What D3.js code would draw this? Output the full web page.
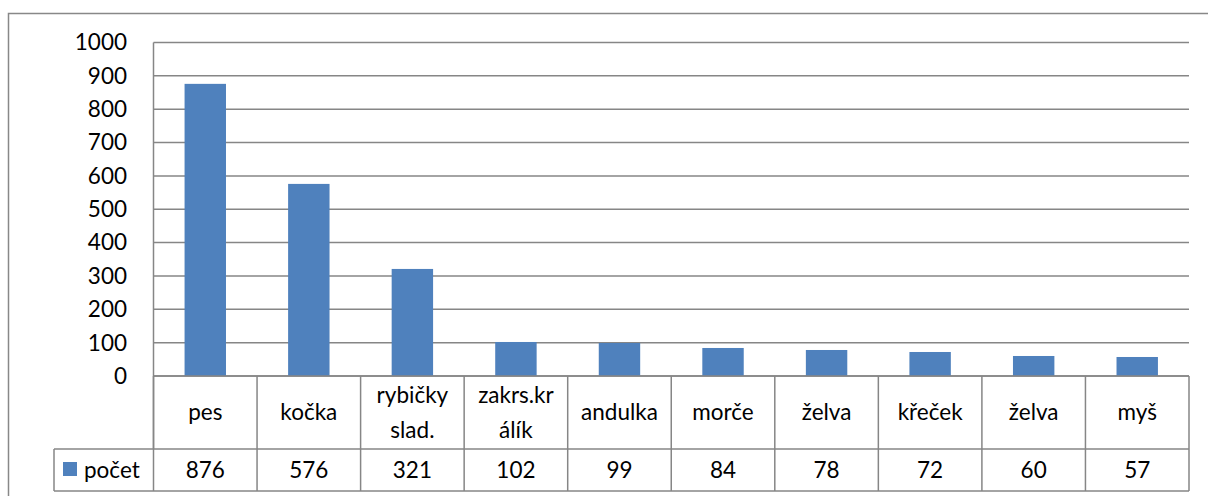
<!DOCTYPE html>
<html>
<head>
<meta charset="utf-8">
<script src="https://cdn.jsdelivr.net/npm/d3@7"></script>
<style>
  body { margin: 0; background: #fff; }
  text { font-family: Lato, "Open Sans", sans-serif; fill: #000; }
</style>
</head>
<body>
<svg id="chart" width="1208" height="496"></svg>
<script>
// data
const categories = [["pes"], ["kočka"], ["rybičky", "slad."], ["zakrs.kr", "álík"], ["andulka"], ["morče"], ["želva"], ["křeček"], ["želva"], ["myš"]];
const values = [876, 576, 321, 102, 99, 84, 78, 72, 60, 57];
const seriesName = "počet";
const yTicks = [0, 100, 200, 300, 400, 500, 600, 700, 800, 900, 1000];

const margin = {top: 42.5, left: 153.5, right: 1189, bottom: 376};
const rowBottom = 449, tableBottom = 491, legendLeft = 54;
const gridColor = "#868686", barColor = "#4f81bd";
const fontSize = "22.5px";

let svg = d3.select("#chart");

// outer frame
svg.append("rect")
    .attr("x", 8.5).attr("y", 13.5)
    .attr("width", 1210).attr("height", 500)
    .attr("fill", "none").attr("stroke", "#888").attr("stroke-width", 1.5);

let xScale = d3.scaleBand()
    .domain(d3.range(categories.length))
    .range([margin.left, margin.right])
    .paddingInner(0).paddingOuter(0);

let yScale = d3.scaleLinear()
    .domain([0, 1000])
    .range([margin.bottom, margin.top]);

// gridlines
svg.append("g").selectAll("line").data(yTicks).enter().append("line")
    .attr("x1", margin.left).attr("x2", margin.right)
    .attr("y1", d => yScale(d)).attr("y2", d => yScale(d))
    .attr("stroke", gridColor).attr("stroke-width", 1.5);

// y axis line
svg.append("line")
    .attr("x1", margin.left).attr("x2", margin.left)
    .attr("y1", margin.top).attr("y2", rowBottom)
    .attr("stroke", gridColor).attr("stroke-width", 1.5);

// y tick labels
svg.append("g").selectAll("text").data(yTicks).enter().append("text")
    .attr("x", 127).attr("y", d => yScale(d))
    .attr("dy", "0.35em")
    .attr("text-anchor", "end")
    .style("font-size", fontSize)
    .text(d => d);

// bars
let bw = xScale.bandwidth() / 2.5;
svg.append("g").selectAll("rect").data(values).enter().append("rect")
    .attr("x", (d, i) => xScale(i) + xScale.bandwidth() / 2 - bw / 2)
    .attr("y", d => yScale(d))
    .attr("width", bw)
    .attr("height", d => yScale(0) - yScale(d))
    .attr("fill", barColor);

// data table lines
let tbl = svg.append("g").attr("stroke", gridColor).attr("stroke-width", 1.5);
tbl.append("line").attr("x1", margin.left).attr("x2", margin.right)
    .attr("y1", margin.bottom).attr("y2", margin.bottom);
tbl.append("line").attr("x1", legendLeft).attr("x2", margin.right)
    .attr("y1", rowBottom).attr("y2", rowBottom);
tbl.append("line").attr("x1", legendLeft).attr("x2", margin.right)
    .attr("y1", tableBottom).attr("y2", tableBottom);
tbl.append("line").attr("x1", legendLeft).attr("x2", legendLeft)
    .attr("y1", rowBottom).attr("y2", tableBottom);
tbl.selectAll(".col").data(d3.range(categories.length + 1)).enter().append("line")
    .attr("x1", i => margin.left + i * xScale.step())
    .attr("x2", i => margin.left + i * xScale.step())
    .attr("y1", margin.bottom).attr("y2", tableBottom);

// category labels
let catG = svg.append("g").selectAll("text").data(categories).enter().append("text")
    .attr("text-anchor", "middle")
    .style("font-size", fontSize);
catG.each(function(lines, i) {
    let cx = xScale(i) + xScale.bandwidth() / 2;
    let midY = (margin.bottom + rowBottom) / 2;
    let start = midY - (lines.length - 1) * 17.5;
    lines.forEach(function(l, k) {
        d3.select(this).append("tspan")
            .attr("x", cx)
            .attr("y", start + k * 35)
            .attr("dy", "0.35em")
            .text(l);
    }, this);
});

// values row
svg.append("g").selectAll("text").data(values).enter().append("text")
    .attr("x", (d, i) => xScale(i) + xScale.bandwidth() / 2)
    .attr("y", (rowBottom + tableBottom) / 2)
    .attr("dy", "0.35em")
    .attr("text-anchor", "middle")
    .style("font-size", fontSize)
    .text(d => d);

// legend key
svg.append("rect")
    .attr("x", 63).attr("y", 462)
    .attr("width", 14).attr("height", 14)
    .attr("fill", barColor);
svg.append("text")
    .attr("x", 84).attr("y", (rowBottom + tableBottom) / 2)
    .attr("dy", "0.35em")
    .style("font-size", fontSize)
    .text(seriesName);
</script>
</body>
</html>
